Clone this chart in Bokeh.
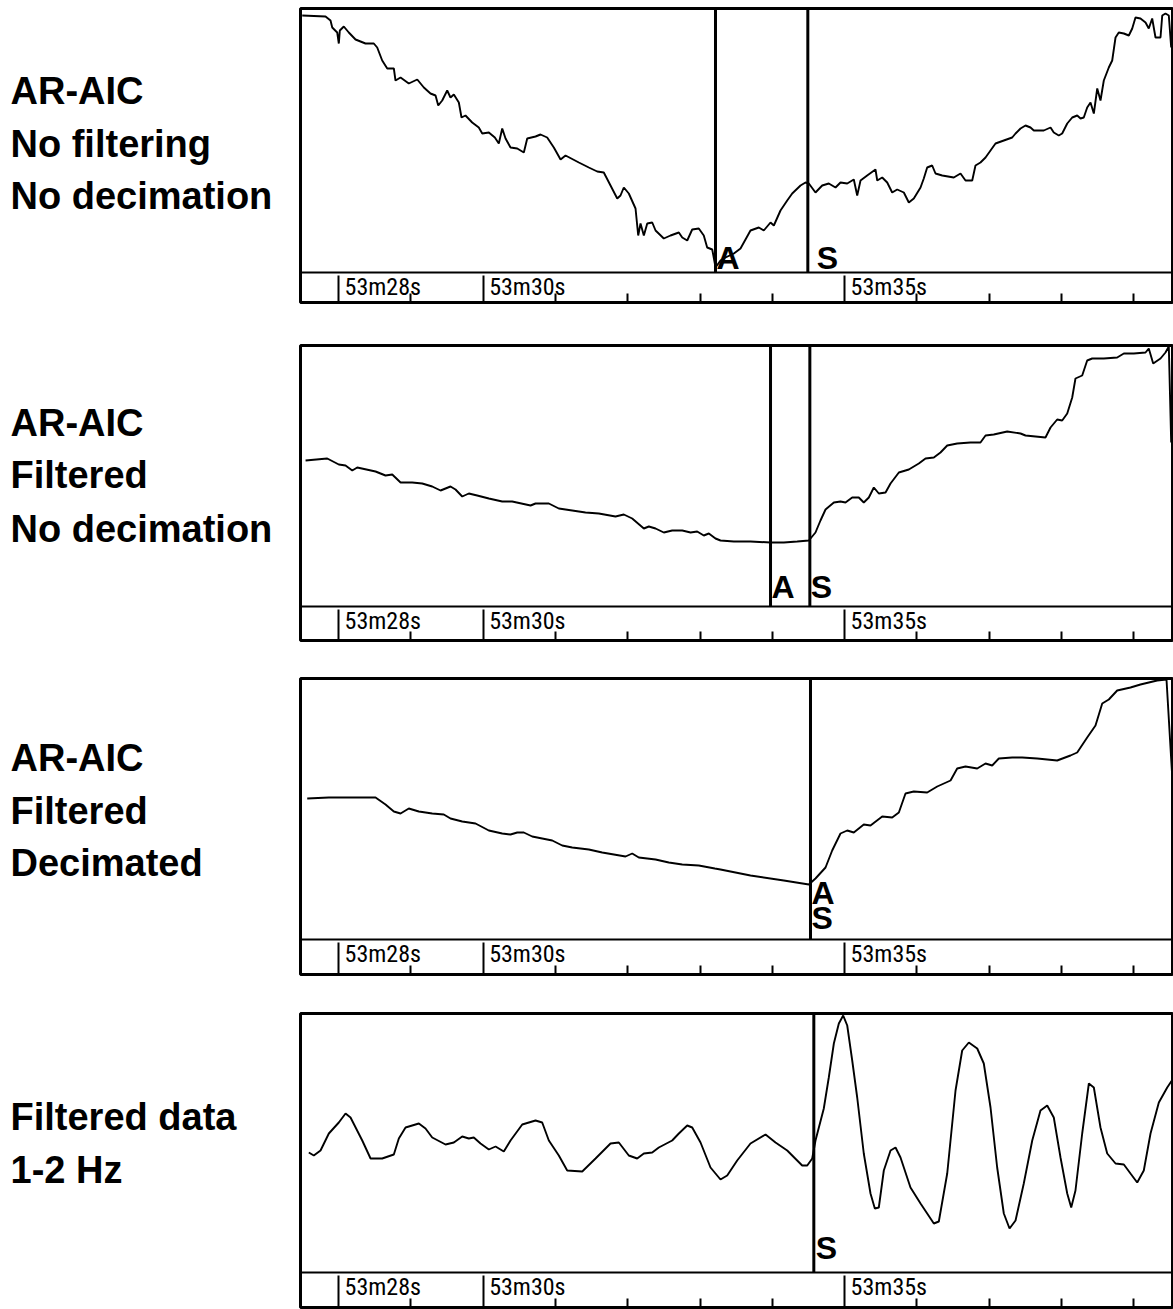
from bokeh.plotting import figure
from bokeh.models import Range1d, FixedTicker, Span, ColumnDataSource, LinearAxis
from bokeh.layouts import column, row
from bokeh.embed import file_html
from bokeh.resources import INLINE
from bokeh.core.properties import value

# ---------------- data (time in seconds after 53m00s, AIC / amplitude in arbitrary units) -------------
tick_major = [28, 30, 35]
tick_labels = ["53m28s", "53m30s", "53m35s"]
tick_minor = [29, 31, 32, 33, 34, 36, 37, 38, 39]

p1_t = [27.498, 27.820, 27.889, 27.913, 27.982, 28.004, 28.018, 28.073, 28.142, 28.235,
        28.373, 28.488, 28.535, 28.604, 28.674, 28.765, 28.788, 28.858, 28.972, 29.089,
        29.180, 29.272, 29.342, 29.379, 29.434, 29.503, 29.549, 29.595, 29.664, 29.701,
        29.756, 29.849, 29.940, 29.988, 30.079, 30.162, 30.217, 30.264, 30.310, 30.379,
        30.472, 30.563, 30.610, 30.725, 30.794, 30.886, 30.978, 31.071, 31.140, 31.324,
        31.462, 31.578, 31.669, 31.762, 31.855, 31.900, 31.946, 32.015, 32.108, 32.145,
        32.177, 32.223, 32.270, 32.339, 32.385, 32.499, 32.592, 32.707, 32.754, 32.823,
        32.892, 32.983, 33.052, 33.099, 33.169, 33.205, 33.214, 33.283, 33.353, 33.468,
        33.560, 33.675, 33.698, 33.813, 33.882, 33.975, 34.021, 34.113, 34.206, 34.275,
        34.390, 34.459, 34.505, 34.597, 34.690, 34.781, 34.874, 34.943, 35.036, 35.127,
        35.174, 35.220, 35.312, 35.427, 35.451, 35.520, 35.589, 35.658, 35.727, 35.819,
        35.888, 35.957, 36.050, 36.095, 36.142, 36.211, 36.257, 36.350, 36.510, 36.603,
        36.672, 36.765, 36.810, 36.879, 36.949, 37.018, 37.087, 37.202, 37.318, 37.364,
        37.433, 37.502, 37.571, 37.617, 37.755, 37.848, 37.893, 37.962, 38.009, 38.079,
        38.148, 38.217, 38.263, 38.308, 38.355, 38.401, 38.447, 38.494, 38.539, 38.585,
        38.654, 38.701, 38.747, 38.792, 38.862, 38.931, 38.978, 39.023, 39.092, 39.162,
        39.207, 39.254, 39.300, 39.369, 39.393, 39.438, 39.484, 39.517]
p1_v = [257, 256, 252, 245, 240, 229, 242, 246, 240, 233,
        229, 229, 225, 212, 204, 204, 192, 195, 189, 193,
        185, 179, 177, 167, 172, 182, 175, 178, 170, 155,
        157, 150, 145, 139, 140, 135, 129, 144, 134, 125,
        124, 120, 134, 136, 138, 135, 125, 113, 117, 110,
        105, 101, 100, 87, 74, 77, 85, 79, 64, 37,
        49, 37, 49, 50, 42, 34, 37, 40, 35, 32,
        43, 44, 37, 25, 23, 9, 5, 12, 15, 19,
        24, 39, 42, 45, 42, 50, 47, 62, 72, 79,
        87, 90, 89, 80, 87, 89, 85, 90, 89, 93,
        77, 92, 97, 103, 92, 95, 90, 80, 83, 80,
        70, 74, 85, 94, 105, 107, 99, 97, 95, 99,
        92, 92, 107, 110, 115, 122, 129, 132, 135, 139,
        144, 147, 145, 142, 142, 145, 140, 137, 139, 149,
        155, 157, 154, 155, 165, 170, 159, 184, 172, 192,
        205, 212, 235, 240, 239, 237, 244, 255, 254, 250,
        244, 254, 235, 235, 257, 259, 257, 225]
p1_picks = [33.214, 34.491]
p1_pick_labels = ["A", "S"]

p2_t = [27.544, 27.844, 28.004, 28.097, 28.190, 28.259, 28.512, 28.650, 28.743, 28.858,
        29.019, 29.158, 29.296, 29.411, 29.549, 29.618, 29.711, 29.802, 29.918, 30.079,
        30.264, 30.402, 30.656, 30.725, 30.909, 31.047, 31.232, 31.416, 31.600, 31.831,
        31.946, 32.062, 32.223, 32.292, 32.385, 32.499, 32.615, 32.754, 32.869, 32.961,
        33.052, 33.122, 33.214, 33.283, 33.468, 33.698, 33.975, 34.159, 34.344, 34.505,
        34.597, 34.666, 34.736, 34.851, 34.943, 35.012, 35.105, 35.196, 35.265, 35.335,
        35.404, 35.473, 35.566, 35.635, 35.750, 35.888, 36.026, 36.119, 36.234, 36.326,
        36.419, 36.557, 36.741, 36.879, 36.949, 37.063, 37.249, 37.433, 37.502, 37.778,
        37.848, 37.940, 38.009, 38.079, 38.148, 38.193, 38.286, 38.355, 38.424, 38.585,
        38.770, 38.862, 39.000, 39.162, 39.207, 39.268, 39.369, 39.438, 39.484, 39.517]
p2_v = [146, 148, 142, 141, 136, 139, 135, 131, 132, 124,
        124, 123, 120, 116, 120, 117, 110, 113, 111, 108,
        105, 105, 101, 103, 103, 98, 96, 94, 93, 90,
        92, 88, 78, 80, 78, 74, 76, 76, 74, 75,
        71, 73, 68, 66, 65, 65, 64, 64, 65, 66,
        74, 86, 97, 104, 105, 104, 109, 109, 104, 109,
        119, 113, 114, 123, 134, 137, 143, 148, 149, 154,
        161, 163, 164, 164, 171, 172, 175, 173, 171, 169,
        179, 187, 186, 193, 209, 228, 231, 246, 248, 248,
        249, 253, 253, 254, 258, 243, 248, 254, 260, 164]
p2_picks = [33.975, 34.519]
p2_pick_labels = ["A", "S"]

p3_t = [27.567, 27.866, 28.512, 28.650, 28.765, 28.858, 28.972, 29.111, 29.296, 29.456,
        29.549, 29.711, 29.895, 30.079, 30.264, 30.379, 30.472, 30.563, 30.679, 30.817,
        30.956, 31.094, 31.232, 31.462, 31.647, 31.970, 32.062, 32.153, 32.385, 32.568,
        32.754, 32.983, 33.205, 33.283, 33.698, 34.159, 34.505, 34.597, 34.736, 34.828,
        34.943, 35.036, 35.127, 35.265, 35.358, 35.520, 35.658, 35.750, 35.842, 35.957,
        36.142, 36.281, 36.465, 36.557, 36.672, 36.834, 36.949, 37.041, 37.133, 37.318,
        37.456, 37.664, 37.940, 38.124, 38.217, 38.355, 38.470, 38.563, 38.654, 38.770,
        38.954, 39.092, 39.323, 39.452, 39.545]
p3_v = [141, 142, 142, 135, 128, 126, 131, 128, 126, 125,
        121, 118, 116, 109, 106, 105, 107, 107, 103, 101,
        99, 94, 92, 90, 87, 83, 86, 82, 80, 77,
        75, 74, 71, 70, 64, 59, 55, 61, 72, 89,
        106, 109, 107, 115, 114, 123, 122, 127, 146, 148,
        147, 153, 159, 171, 173, 171, 176, 174, 181, 182,
        182, 181, 179, 184, 187, 202, 214, 236, 240, 249,
        252, 255, 259, 260, 146]
p3_picks = [34.528, 34.528]
p3_pick_labels = ["A", "S"]

p4_t = [27.589, 27.658, 27.751, 27.866, 28.004, 28.097, 28.166, 28.328, 28.443, 28.604,
        28.765, 28.834, 28.927, 29.111, 29.203, 29.296, 29.480, 29.595, 29.711, 29.802,
        29.871, 29.964, 30.079, 30.172, 30.286, 30.379, 30.541, 30.725, 30.817, 30.909,
        31.047, 31.163, 31.371, 31.555, 31.762, 31.877, 32.015, 32.131, 32.223, 32.339,
        32.430, 32.615, 32.707, 32.823, 32.892, 33.007, 33.145, 33.283, 33.376, 33.514,
        33.698, 33.906, 34.044, 34.206, 34.413, 34.483, 34.552, 34.597, 34.712, 34.781,
        34.851, 34.920, 34.980, 35.036, 35.105, 35.174, 35.265, 35.358, 35.418, 35.473,
        35.542, 35.635, 35.704, 35.773, 35.911, 36.050, 36.234, 36.303, 36.419, 36.534,
        36.626, 36.718, 36.834, 36.925, 37.018, 37.110, 37.202, 37.281, 37.364, 37.478,
        37.595, 37.709, 37.802, 37.893, 37.986, 38.079, 38.134, 38.193, 38.286, 38.378,
        38.447, 38.539, 38.632, 38.747, 38.862, 38.954, 39.047, 39.138, 39.231, 39.346,
        39.462, 39.545]
p4_v = [120, 117, 122, 139, 150, 159, 155, 132, 114, 114,
        118, 134, 145, 149, 144, 135, 128, 130, 136, 134,
        135, 129, 123, 126, 121, 132, 148, 152, 150, 132,
        117, 102, 101, 114, 129, 130, 117, 114, 119, 120,
        125, 132, 139, 147, 145, 130, 105, 93, 97, 112,
        129, 138, 130, 122, 107, 107, 114, 132, 164, 195,
        229, 249, 257, 247, 212, 175, 119, 79, 64, 65,
        102, 122, 125, 115, 85, 69, 49, 51, 99, 182,
        222, 230, 224, 209, 165, 105, 59, 44, 52, 89,
        132, 162, 167, 155, 115, 79, 65, 82, 139, 189,
        185, 145, 119, 109, 108, 99, 90, 102, 139, 170,
        185, 194]
p4_picks = [34.574]
p4_pick_labels = ["S"]

p1_title = ["AR-AIC", "No filtering", "No decimation"]
p2_title = ["AR-AIC", "Filtered", "No decimation"]
p3_title = ["AR-AIC", "Filtered", "Decimated"]
p4_title = ["Filtered data", "1-2 Hz"]

# ---------------- layout / style (page pixels) ----------------
PAGE_W = 1173
FRAME_LEFT = 300
FRAME_RIGHT = 1172
LABEL_W = FRAME_LEFT - 2
X_START, X_END = 27.474, 39.535

panels = [
    dict(t=p1_t, v=p1_v, picks=p1_picks, plab=p1_pick_labels, title=p1_title,
         top=8, sep=272, bottom=302, centers=[90, 143, 195],
         pdx=[1, 9], pdy=[-15, -15]),
    dict(t=p2_t, v=p2_v, picks=p2_picks, plab=p2_pick_labels, title=p2_title,
         top=345, sep=606, bottom=640, centers=[422, 474, 528],
         pdx=[1, 1], pdy=[-20, -20]),
    dict(t=p3_t, v=p3_v, picks=p3_picks, plab=p3_pick_labels, title=p3_title,
         top=678, sep=939, bottom=974, centers=[757, 810, 862],
         pdx=[1, 1], pdy=[-47, -22]),
    dict(t=p4_t, v=p4_v, picks=p4_picks, plab=p4_pick_labels, title=p4_title,
         top=1013, sep=1272, bottom=1307, centers=[1116, 1169],
         pdx=[2], pdy=[-25]),
]

BOLD = "Liberation Sans"
NARROW = "Liberation Sans Narrow, Roboto Condensed, Liberation Sans"
BORDER_BOTTOM = 2

rows = []
prev_end = 0
for pn in panels:
    top, sep, bottom = pn["top"], pn["sep"], pn["bottom"]
    border_top = top - prev_end
    frame_h = bottom - top
    fig_h = border_top + frame_h + BORDER_BOTTOM
    prev_end += fig_h
    strip = bottom - sep
    trace_h = sep - top

    # ---- left description panel (same borders as its neighbour; y in page pixels) ----
    lf = figure(width=LABEL_W, height=fig_h, output_backend="svg", toolbar_location=None,
                x_range=Range1d(0, LABEL_W), y_range=Range1d(bottom, top),
                x_axis_location=None, y_axis_location=None,
                min_border_left=0, min_border_right=0, min_border_top=border_top,
                min_border_bottom=BORDER_BOTTOM)
    lf.xgrid.visible = False
    lf.ygrid.visible = False
    lf.outline_line_color = None
    lf.background_fill_color = "white"
    lf.border_fill_color = "white"
    lf.text(x=[10] * len(pn["title"]), y=pn["centers"],
            text=pn["title"], text_font=value(BOLD), text_font_style="bold",
            text_font_size="38px", text_align="left", text_baseline="middle",
            text_color="black")

    # ---- trace panel ----
    p = figure(width=PAGE_W - LABEL_W, height=fig_h, output_backend="svg", toolbar_location=None,
               x_range=Range1d(X_START, X_END), y_range=Range1d(-strip, trace_h),
               x_axis_location=None, y_axis_location=None,
               min_border_left=FRAME_LEFT - LABEL_W,
               min_border_right=PAGE_W - FRAME_RIGHT, min_border_top=border_top,
               min_border_bottom=BORDER_BOTTOM)
    p.xgrid.visible = False
    p.ygrid.visible = False
    p.outline_line_color = "black"
    p.outline_line_width = 3
    p.background_fill_color = "white"
    p.border_fill_color = "white"

    # time axis: long ticks at labelled seconds, short ticks at the other seconds
    for ticks, length in ((tick_major, strip - 3), (tick_minor, 9)):
        ax = LinearAxis(ticker=FixedTicker(ticks=[], minor_ticks=ticks),
                        axis_line_color=None, major_tick_in=0, major_tick_out=0,
                        minor_tick_in=length, minor_tick_out=0,
                        minor_tick_line_width=2, minor_tick_line_color="black",
                        major_label_standoff=0)
        p.add_layout(ax, "below")

    # separator between trace area and time strip
    p.add_layout(Span(location=0, dimension="width", line_color="black", line_width=2))

    # trace
    p.line(pn["t"], pn["v"], line_color="black", line_width=1.9)

    # pick lines and letters
    n = len(pn["picks"])
    p.segment(x0=pn["picks"], y0=[0] * n, x1=pn["picks"], y1=[trace_h] * n,
              line_color="black", line_width=3)
    psrc = ColumnDataSource(dict(x=pn["picks"], y=[0] * n, text=pn["plab"],
                                 dx=pn["pdx"], dy=pn["pdy"]))
    p.text(x="x", y="y", text="text", x_offset="dx", y_offset="dy", source=psrc,
           text_font=value(BOLD), text_font_style="bold", text_font_size="32px",
           text_align="left", text_baseline="middle", text_color="black")

    # time labels in the strip
    p.text(x=tick_major, y=[0] * len(tick_major), text=tick_labels, x_offset=6, y_offset=14,
           text_font=value(NARROW), text_font_size="24px", text_align="left",
           text_baseline="middle", text_color="black")

    rows.append(row(lf, p, spacing=0))

layout = column(*rows, spacing=0)
open("out.html", "w").write(file_html(layout, INLINE))
